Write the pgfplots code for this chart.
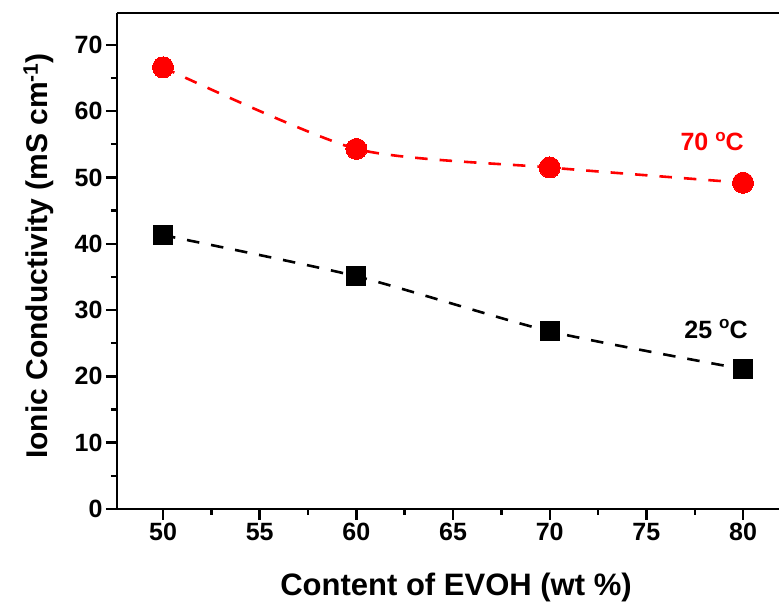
\documentclass[border=0pt]{standalone}
\usepackage{pgfplots}
\pgfplotsset{compat=1.18}
\usepackage{fontspec}
\setmainfont{Liberation Sans}
\newcommand{\dego}{\raisebox{9.5pt}{\fontsize{17}{17}\selectfont\bfseries o}}
\begin{document}
\begin{tikzpicture}
\begin{axis}[
  at={(0,0)}, anchor=south west,
  scale only axis,
  width=662pt, height=496pt,
  xmin=47.62, xmax=81.86, ymin=0, ymax=74.8,
  axis x line*=bottom, axis y line*=left,
  xtick={50,55,...,80}, ytick={0,10,...,70},
  minor x tick num=1, minor y tick num=1,
  tick align=outside,
  major tick length=11pt, minor tick length=6pt,
  every tick/.style={line width=2.4pt, black},
  axis line style={line width=2.8pt},
  /pgf/number format/assume math mode=true,
  ticklabel style={font=\fontsize{25}{29}\selectfont\bfseries},
  xlabel={Content of EVOH (wt \%)},
  ylabel={Ionic Conductivity (mS cm\textsuperscript{-1})},
  xlabel style={font=\fontsize{31}{35}\selectfont\bfseries, at={(axis description cs:0.5121,-0.1734)}, anchor=base},
  ylabel style={font=\fontsize{30}{34}\selectfont\bfseries, at={(axis description cs:-0.1057,0.51)}, anchor=base},
  clip=false,
]
\draw[line width=2.8pt] (rel axis cs:0,1) -- (rel axis cs:1,1);
\addplot[red, line width=2.6pt, dash pattern=on 12.5pt off 12pt, smooth, tension=0.4,
  mark=*, mark size=10.5pt, mark options={solid, fill=red, draw=red, line width=0pt}]
  coordinates {(50,66.6) (60,54.3) (70,51.5) (80,49.2)};
\addplot[black, line width=2.6pt, dash pattern=on 12.5pt off 12pt, smooth, tension=0.4,
  mark=square*, mark size=9.6pt, mark options={solid, fill=black, draw=black, line width=0pt}]
  coordinates {(50,41.3) (60,35.1) (70,26.8) (80,21.1)};
\node[red, font=\fontsize{25}{29}\selectfont\bfseries] at (axis cs:78.4,55.4) {70 \dego C};
\node[black, font=\fontsize{25}{29}\selectfont\bfseries] at (axis cs:78.6,27.1) {25 \dego C};
\end{axis}
\pgfresetboundingbox
\path[use as bounding box] (-117pt,-95pt) rectangle (662pt,509pt);
\end{tikzpicture}
\end{document}
